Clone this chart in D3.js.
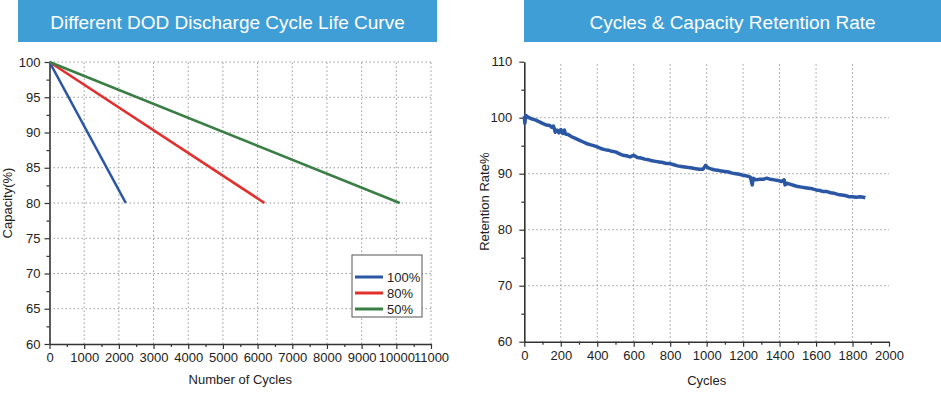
<!DOCTYPE html>
<html>
<head>
<meta charset="utf-8">
<script src="https://cdn.jsdelivr.net/npm/d3@7"></script>
<style>
  body { margin: 0; background: #fff; }
  svg { display: block; font-family: "Liberation Sans", Arial, sans-serif; }
  .domain { stroke: #333; stroke-width: 1.6; }
  .tick line { stroke: #333; stroke-width: 1.2; }
  .tick text { fill: #222; font-size: 13px; }
  .grid line { stroke: #9a9a9a; stroke-width: 1; stroke-dasharray: 1.5 2.5; }
</style>
</head>
<body>
<svg id="chart" width="941" height="394"></svg>
<script>
// left chart: DOD cycle life
const dodLabels = ["100%", "80%", "50%"];
const dodColors = ["#2a56a4", "#e2302f", "#3a7e45"];
const dodCycles = [[0, 2200], [0, 6200], [0, 10100]];
const dodCapacity = [[100, 80], [100, 80], [100, 80]];
const leftXTicks = [0, 1000, 2000, 3000, 4000, 5000, 6000, 7000, 8000, 9000, 10000, 11000];
const leftYTicks = [60, 65, 70, 75, 80, 85, 90, 95, 100];

// right chart: retention rate
const retCycles = [0, 3, 8, 20, 40, 60, 80, 100, 120, 140, 150, 160, 170, 180, 190, 200, 210, 220, 225, 240,
  260, 280, 300, 320, 340, 360, 380, 400, 420, 440, 460, 480, 500, 520, 540, 560, 580, 600, 620, 640,
  660, 680, 700, 720, 740, 760, 780, 800, 820, 840, 860, 880, 900, 920, 940, 960, 980, 995, 1005, 1020,
  1040, 1060, 1080, 1100, 1120, 1140, 1160, 1180, 1200, 1220, 1240, 1250, 1255, 1270, 1290, 1310, 1330, 1350, 1370, 1390,
  1410, 1425, 1430, 1440, 1460, 1480, 1500, 1520, 1540, 1560, 1580, 1600, 1620, 1640, 1660, 1680, 1700, 1720, 1740, 1760,
  1780, 1800, 1820, 1840, 1860, 1870];
const retRate = [100.3, 99.0, 100.4, 100.1, 99.8, 99.6, 99.3, 99.0, 98.7, 98.6, 98.3, 98.5, 97.4, 97.8, 97.3, 97.9, 97.2, 97.8, 97.1, 97.0,
  96.6, 96.3, 96.0, 95.7, 95.4, 95.2, 95.0, 94.8, 94.5, 94.3, 94.2, 94.0, 93.9, 93.6, 93.3, 93.2, 93.0, 93.3, 92.9, 92.8,
  92.6, 92.5, 92.3, 92.2, 92.1, 92.0, 91.8, 91.8, 91.6, 91.4, 91.3, 91.2, 91.1, 91.0, 90.9, 90.8, 90.8, 91.5, 91.1, 90.9,
  90.7, 90.6, 90.5, 90.4, 90.3, 90.1, 90.0, 89.9, 89.7, 89.6, 89.4, 88.0, 89.2, 88.9, 89.0, 89.0, 89.2, 89.0, 88.9, 88.8,
  88.6, 88.9, 88.0, 88.3, 88.1, 87.9, 87.7, 87.6, 87.5, 87.4, 87.3, 87.1, 87.0, 86.8, 86.8, 86.6, 86.5, 86.3, 86.2, 86.1,
  85.9, 85.9, 85.8, 85.9, 85.8, 85.7];
const rightXTicks = [0, 200, 400, 600, 800, 1000, 1200, 1400, 1600, 1800, 2000];
const rightYTicks = [60, 70, 80, 90, 100, 110];

const svg = d3.select("#chart");

const banner = (x0, x1, label) => {
  svg.append("rect").attr("x", x0).attr("y", 0).attr("width", x1 - x0).attr("height", 42)
    .attr("fill", "#409ed6");
  svg.append("text").attr("x", (x0 + x1) / 2).attr("y", 28.5).attr("text-anchor", "middle")
    .attr("fill", "#fff").style("font-size", "19px").text(label);
};

const drawAxes = (g, x, y, cfg) => {
  const [x0, x1] = x.range();
  const [y0, y1] = y.range();
  // grid
  g.append("g").attr("class", "grid").selectAll("line").data(cfg.vGrid).join("line")
    .attr("x1", d => x(d)).attr("x2", d => x(d)).attr("y1", y0).attr("y2", y1);
  g.append("g").attr("class", "grid").selectAll("line").data(cfg.hGrid).join("line")
    .attr("x1", x0).attr("x2", x1).attr("y1", d => y(d)).attr("y2", d => y(d));
  // minor ticks
  g.append("g").attr("transform", `translate(0,${y0})`)
    .call(d3.axisBottom(x).tickValues(cfg.xMinor).tickSize(3).tickFormat(""))
    .call(s => s.select(".domain").remove());
  g.append("g").attr("transform", `translate(${x0},0)`)
    .call(d3.axisLeft(y).tickValues(cfg.yMinor).tickSize(3).tickFormat(""))
    .call(s => s.select(".domain").remove());
  // major axes
  g.append("g").attr("transform", `translate(0,${y0})`)
    .call(d3.axisBottom(x).tickValues(cfg.xTicks).tickSize(5).tickSizeOuter(0).tickPadding(4).tickFormat(d3.format("d")));
  g.append("g").attr("transform", `translate(${x0},0)`)
    .call(d3.axisLeft(y).tickValues(cfg.yTicks).tickSize(5).tickSizeOuter(0).tickPadding(cfg.yPad).tickFormat(d3.format("d")));
  // titles
  g.append("text").attr("x", (x0 + x1) / 2).attr("y", cfg.xTitleY).attr("text-anchor", "middle")
    .attr("fill", "#222").style("font-size", "13px").text(cfg.xTitle);
  g.append("text").attr("transform", `translate(${cfg.yTitleX},${(y0 + y1) / 2}) rotate(-90)`)
    .attr("text-anchor", "middle").attr("fill", "#222").style("font-size", "13px").text(cfg.yTitle);
};

// ---- left
banner(18, 437, "Different DOD Discharge Cycle Life Curve");
const xL = d3.scaleLinear().domain([0, 11000]).range([49.5, 431]);
const yL = d3.scaleLinear().domain([60, 100]).range([344, 62]);
const gL = svg.append("g");
drawAxes(gL, xL, yL, {
  vGrid: leftXTicks.slice(1), hGrid: leftYTicks.slice(1),
  xTicks: leftXTicks, yTicks: leftYTicks,
  xMinor: d3.range(500, 11000, 1000), yMinor: d3.range(62.5, 100, 5),
  yPad: 4, xTitle: "Number of Cycles", xTitleY: 384, yTitle: "Capacity(%)", yTitleX: 12
});
const lineL = d3.line().x(d => xL(d[0])).y(d => yL(d[1]));
dodLabels.forEach((lab, i) => {
  const pts = dodCycles[i].map((c, j) => [c, dodCapacity[i][j]]);
  gL.append("path").datum(pts).attr("d", lineL).attr("fill", "none")
    .attr("stroke", dodColors[i]).attr("stroke-width", 2.6);
});
// legend
const leg = gL.append("g").attr("transform", "translate(352,255)");
leg.append("rect").attr("width", 70).attr("height", 62).attr("fill", "#fff")
  .attr("stroke", "#555").attr("stroke-width", 1);
dodLabels.forEach((lab, i) => {
  const yy = 22 + i * 16;
  leg.append("line").attr("x1", 3).attr("x2", 31).attr("y1", yy).attr("y2", yy)
    .attr("stroke", dodColors[i]).attr("stroke-width", 3);
  leg.append("text").attr("x", 35).attr("y", yy + 4.5).attr("fill", "#222")
    .style("font-size", "13px").text(lab);
});

// ---- right
banner(524, 941, "Cycles & Capacity Retention Rate");
const xR = d3.scaleLinear().domain([0, 2000]).range([524.3, 889]);
const yR = d3.scaleLinear().domain([60, 110]).range([341.7, 61.7]);
const gR = svg.append("g");
drawAxes(gR, xR, yR, {
  vGrid: rightXTicks.slice(1, -1), hGrid: rightYTicks.slice(1, -1),
  xTicks: rightXTicks, yTicks: rightYTicks,
  xMinor: d3.range(100, 2000, 200), yMinor: d3.range(65, 110, 10),
  yPad: 7, xTitle: "Cycles", xTitleY: 385, yTitle: "Retention Rate%", yTitleX: 489
});
const lineR = d3.line().x((d, i) => xR(retCycles[i])).y(d => yR(d));
gR.append("path").datum(retRate).attr("d", lineR).attr("fill", "none")
  .attr("stroke", "#2a56a4").attr("stroke-width", 3.5).attr("stroke-linejoin", "round");
</script>
</body>
</html>
